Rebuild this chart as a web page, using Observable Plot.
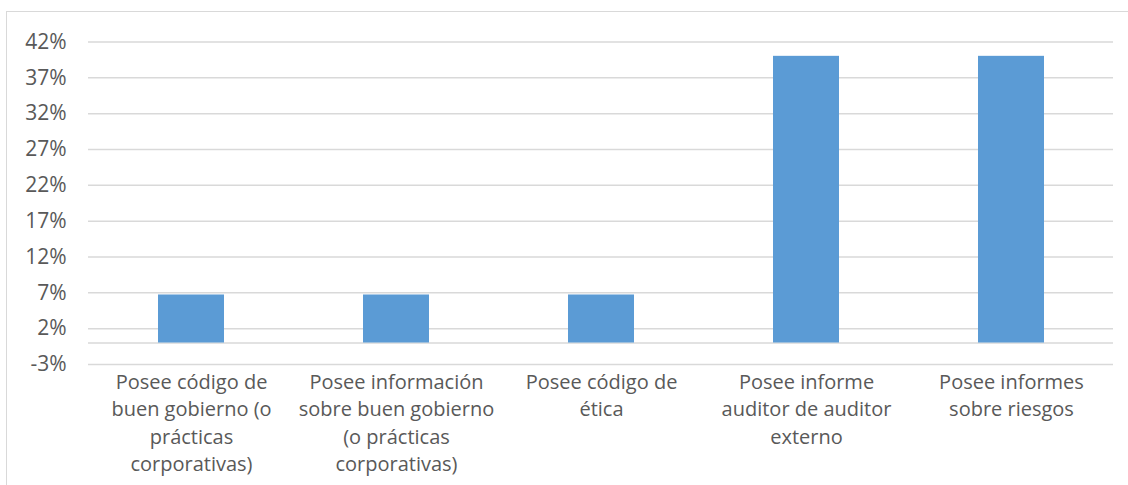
<!DOCTYPE html>
<html>
<head>
<meta charset="utf-8">
<script src="https://cdn.jsdelivr.net/npm/d3@7"></script>
<script src="https://cdn.jsdelivr.net/npm/@observablehq/plot@0.6"></script>
<style>
  html, body { margin: 0; padding: 0; background: #fff; }
  #wrap { position: relative; width: 1128px; height: 485px; overflow: hidden; }
  #border { position: absolute; left: 6px; top: 11px; width: 1140px; height: 500px;
            border: 1.5px solid #D9D9D9; box-sizing: border-box; pointer-events: none; }
  #chart { position: absolute; left: 0; top: 0; }
</style>
</head>
<body>
<div id="wrap"><div id="border"></div><div id="chart"></div></div>
<script>
const categories = [
  "Posee código de\nbuen gobierno (o\nprácticas\ncorporativas)",
  "Posee información\nsobre buen gobierno\n(o prácticas\ncorporativas)",
  "Posee código de\nética",
  "Posee informe\nauditor de auditor\nexterno",
  "Posee informes\nsobre riesgos"
];
const values = [6.7, 6.7, 6.7, 40, 40];
const yTicks = [-3, 2, 7, 12, 17, 22, 27, 32, 37, 42];

const data = categories.map((c, i) => ({cat: c, value: values[i]}));
const font = "'Open Sans', sans-serif";

const chart = Plot.plot({
  width: 1128,
  height: 485,
  marginLeft: 88,
  marginRight: 15,
  marginTop: 41.5,
  marginBottom: 121,
  style: {fontFamily: font, background: "transparent", overflow: "visible"},
  x: {domain: categories, paddingInner: 0.68, paddingOuter: 0.34},
  y: {domain: [-3, 42]},
  marks: [
    Plot.gridY(yTicks, {stroke: "#D9D9D9", strokeOpacity: 1, strokeWidth: 1.5}),
    Plot.ruleY([0], {stroke: "#D9D9D9", strokeWidth: 1.5}),
    Plot.barY(data, {x: "cat", y: "value", fill: "#5B9BD5"}),
    Plot.axisY(yTicks, {tickSize: 0, tickPadding: 22, tickFormat: d => `${d}%`,
      fontSize: 21, fill: "#595959", label: null}),
    Plot.axisX({tickSize: 0, tickPadding: 4.8, fontSize: 20, fill: "#595959",
      lineHeight: 1.37, label: null, textOverflow: null})
  ]
});
document.getElementById("chart").appendChild(chart);
</script>
</body>
</html>
